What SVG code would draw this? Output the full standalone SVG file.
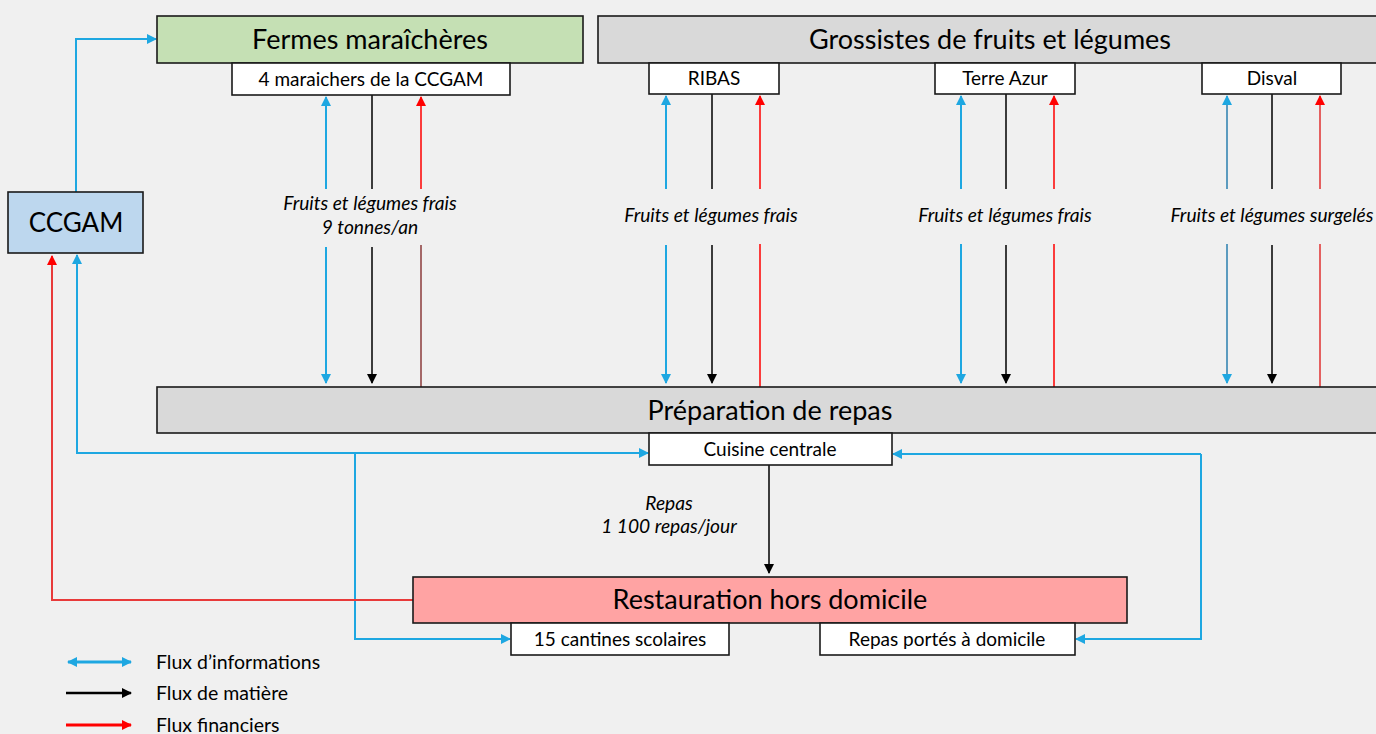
<svg xmlns="http://www.w3.org/2000/svg" width="1376" height="734" viewBox="0 0 1376 734">
<defs>
<style>
.box{stroke:#1a1a1a;stroke-width:1.6}
.t{font-family:Lato,"Liberation Sans",sans-serif;fill:#000;text-anchor:middle}
.big{font-size:27px}
.sm{font-size:19px}
.lab{font-family:Lato,"Liberation Sans",sans-serif;font-style:italic;font-size:19.2px;text-anchor:middle;fill:#000}
.leg{font-family:Lato,"Liberation Sans",sans-serif;font-size:19.5px;fill:#000}
.b{stroke:#1ea7e1;stroke-width:2;fill:none}
.k{stroke:#000;stroke-width:1.5;fill:none}
.r{stroke:#ff0000;stroke-width:1.5;fill:none}
</style>
<marker id="mb" markerWidth="10" markerHeight="10" refX="9" refY="5" orient="auto-start-reverse" markerUnits="userSpaceOnUse"><path d="M0,0 L10,5 L0,10 z" fill="#1ea7e1"/></marker>
<marker id="mk" markerWidth="10" markerHeight="10" refX="9" refY="5" orient="auto-start-reverse" markerUnits="userSpaceOnUse"><path d="M0,0 L10,5 L0,10 z" fill="#000"/></marker>
<marker id="mr" markerWidth="10" markerHeight="10" refX="9" refY="5" orient="auto-start-reverse" markerUnits="userSpaceOnUse"><path d="M0,0 L10,5 L0,10 z" fill="#ff0000"/></marker>
</defs>
<rect width="1376" height="734" fill="#f0f0f0"/>

<g id="connectors">
<path class="b" d="M76,192 V39 H156" marker-end="url(#mb)"/>
<path class="b" d="M77,454 V255" marker-end="url(#mb)"/>
<path class="b" d="M77,453 H648" marker-end="url(#mb)"/>
<path class="b" d="M355,454 V639 H510" marker-end="url(#mb)"/>
<path class="b" d="M1201,454 V639 H1076" marker-end="url(#mb)"/>
<path class="b" d="M1201,454 H893" marker-end="url(#mb)"/>
<path class="r" style="stroke:#e83a3a;stroke-width:2" d="M413,600 H52 V256" marker-end="url(#mr)"/>
<path class="k" d="M769,465 V573" marker-end="url(#mk)"/>

<path class="b" d="M326,189 V97" marker-end="url(#mb)"/>
<path class="b" d="M326,247 V383" marker-end="url(#mb)"/>
<path class="k" d="M372,95 V189"/>
<path class="k" d="M372,247 V383" marker-end="url(#mk)"/>
<path class="r" d="M421,189 V97" marker-end="url(#mr)"/>
<path class="r" style="stroke:#8b3b3b" d="M421,245 V387"/>

<path class="b" d="M666,189 V96" marker-end="url(#mb)"/>
<path class="b" d="M666,245 V383" marker-end="url(#mb)"/>
<path class="k" d="M712,94 V189"/>
<path class="k" d="M712,245 V383" marker-end="url(#mk)"/>
<path class="r" d="M760,189 V96" marker-end="url(#mr)"/>
<path class="r" d="M760,244 V387"/>

<path class="b" d="M961,189 V96" marker-end="url(#mb)"/>
<path class="b" d="M961,244 V383" marker-end="url(#mb)"/>
<path class="k" d="M1006,94 V189"/>
<path class="k" d="M1006,245 V383" marker-end="url(#mk)"/>
<path class="r" d="M1054,189 V96" marker-end="url(#mr)"/>
<path class="r" d="M1054,244 V387"/>

<path class="b" style="stroke:#5b9bbf" d="M1227,189 V96" marker-end="url(#mb)"/>
<path class="b" style="stroke:#5b9bbf" d="M1227,244 V383" marker-end="url(#mb)"/>
<path class="k" d="M1272,94 V189"/>
<path class="k" d="M1272,245 V383" marker-end="url(#mk)"/>
<path class="r" style="stroke:#e03030" d="M1320,189 V96" marker-end="url(#mr)"/>
<path class="r" style="stroke:#e03030" d="M1320,244 V387"/>
</g>

<g id="labels">
<text class="lab" x="370" y="210">Fruits et légumes frais</text>
<text class="lab" x="370" y="234">9 tonnes/an</text>
<text class="lab" x="711" y="222">Fruits et légumes frais</text>
<text class="lab" x="1005" y="222">Fruits et légumes frais</text>
<text class="lab" x="1272" y="222">Fruits et légumes surgelés</text>
<text class="lab" x="669" y="510">Repas</text>
<text class="lab" x="669" y="533">1 100 repas/jour</text>
</g>

<g id="fermes">
<rect class="box" x="157" y="16" width="426" height="47" fill="#c5e0b4"/>
<text class="t big" x="370" y="49">Fermes maraîchères</text>
</g>
<g id="maraichers">
<rect class="box" x="232" y="63" width="278" height="32" fill="#fff"/>
<text class="t sm" x="371" y="86">4 maraichers de la CCGAM</text>
</g>
<g id="grossistes">
<rect class="box" x="598" y="16" width="790" height="47" fill="#d9d9d9"/>
<text class="t big" x="990" y="49">Grossistes de fruits et légumes</text>
</g>
<g id="ribas">
<rect class="box" x="649" y="63" width="130" height="31" fill="#fff"/>
<text class="t sm" x="714" y="85">RIBAS</text>
</g>
<g id="terreazur">
<rect class="box" x="935" y="63" width="140" height="31" fill="#fff"/>
<text class="t sm" x="1005" y="85">Terre Azur</text>
</g>
<g id="disval">
<rect class="box" x="1202" y="63" width="139" height="31" fill="#fff"/>
<text class="t sm" x="1272" y="85">Disval</text>
</g>
<g id="ccgam">
<rect class="box" x="8" y="192" width="135" height="61" fill="#bdd7ee"/>
<text class="t big" style="font-size:26px" x="76" y="232">CCGAM</text>
</g>
<g id="preparation">
<rect class="box" x="157" y="387" width="1231" height="46" fill="#d9d9d9"/>
<text class="t big" x="770" y="420">Préparation de repas</text>
</g>
<g id="cuisine">
<rect class="box" x="649" y="433" width="243" height="32" fill="#fff"/>
<text class="t sm" x="770" y="456">Cuisine centrale</text>
</g>
<g id="restauration">
<rect class="box" x="413" y="577" width="714" height="46" fill="#ffa3a3"/>
<text class="t big" x="770" y="609">Restauration hors domicile</text>
</g>
<g id="cantines">
<rect class="box" x="511" y="623" width="218" height="32" fill="#fff"/>
<text class="t sm" x="620" y="646">15 cantines scolaires</text>
</g>
<g id="portes">
<rect class="box" x="820" y="623" width="255" height="32" fill="#fff"/>
<text class="t sm" x="947" y="646">Repas portés à domicile</text>
</g>

<g id="legend">
<path class="b" style="stroke-width:3" d="M68,662 H131" marker-start="url(#mb)" marker-end="url(#mb)"/>
<text class="leg" x="156" y="669">Flux d’informations</text>
<path class="k" style="stroke-width:2.5" d="M66,693 H131" marker-end="url(#mk)"/>
<text class="leg" x="156" y="700">Flux de matière</text>
<path class="r" style="stroke-width:3" d="M66,725 H131" marker-end="url(#mr)"/>
<text class="leg" x="156" y="732">Flux financiers</text>
</g>
</svg>
